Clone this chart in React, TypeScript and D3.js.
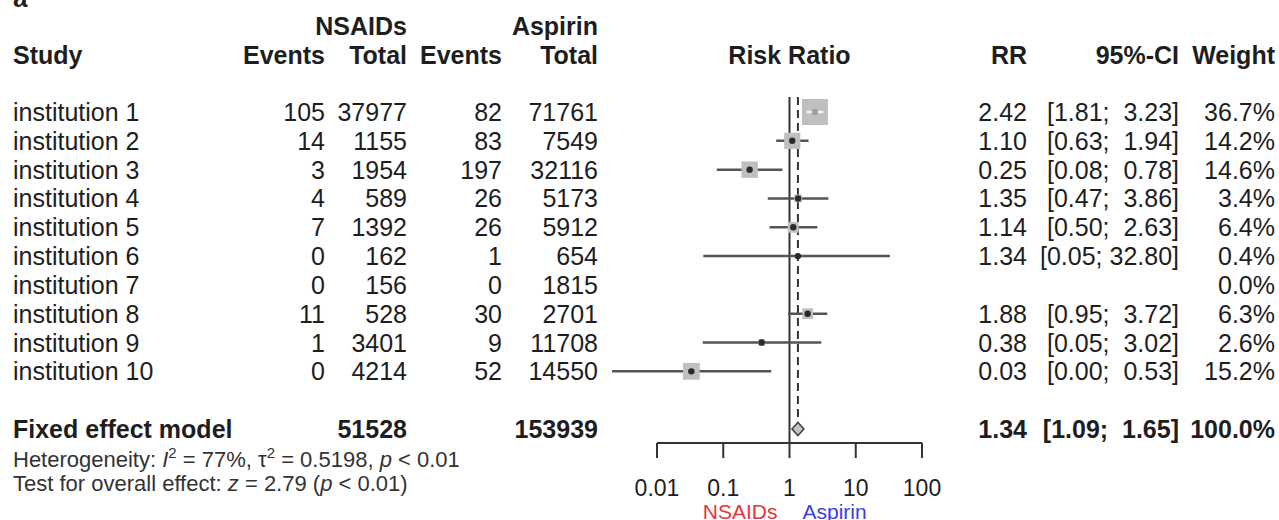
import React from "react";
import * as d3 from "d3";

const studies = ["institution 1","institution 2","institution 3","institution 4","institution 5","institution 6","institution 7","institution 8","institution 9","institution 10"];
const eventsNSAIDs = [105, 14, 3, 4, 7, 0, 0, 11, 1, 0];
const totalNSAIDs = [37977, 1155, 1954, 589, 1392, 162, 156, 528, 3401, 4214];
const eventsAspirin = [82, 83, 197, 26, 26, 1, 0, 30, 9, 52];
const totalAspirin = [71761, 7549, 32116, 5173, 5912, 654, 1815, 2701, 11708, 14550];
const rr: (number | null)[] = [2.42, 1.10, 0.25, 1.35, 1.14, 1.34, null, 1.88, 0.38, 0.033];
const ciLower: (number | null)[] = [1.81, 0.63, 0.08, 0.47, 0.50, 0.05, null, 0.95, 0.049, 0.0021];
const ciUpper: (number | null)[] = [3.23, 1.94, 0.78, 3.86, 2.63, 32.80, null, 3.72, 3.02, 0.53];
const weights = [36.7, 14.2, 14.6, 3.4, 6.4, 0.4, 0.0, 6.3, 2.6, 15.2];

const pooledLabel = "Fixed effect model";
const pooledRR = 1.34;
const pooledLower = 1.09;
const pooledUpper = 1.65;
const pooledTotalNSAIDs = 51528;
const pooledTotalAspirin = 153939;
const pooledWeight = 100.0;

const tickValues = [0.01, 0.1, 1, 10, 100];
const tickLabels = ["0.01", "0.1", "1", "10", "100"];
const labelLeft = "NSAIDs";
const labelRight = "Aspirin";

const FONT = "'Liberation Sans', Arial, Helvetica, sans-serif";

const fmtCI = (lo: number, hi: number) => {
  const l = lo.toFixed(2).padStart(4, " ");
  const h = hi.toFixed(2).padStart(5, " ");
  return `[${l}; ${h}]`;
};

export default function App() {
  const W = 1279, H = 520;
  const x = d3.scaleLog().domain([0.01, 100]).range([657, 922]);
  const y = d3.scaleLinear().domain([0, 11]).range([112, 429]);
  const size = d3.scaleSqrt().domain([0, 36.7]).range([0, 26]);
  const base = 9; // baseline offset from row centre
  const axisY = 443;
  const topY = 97;

  const col = {
    evN: 325, totN: 407, evA: 502, totA: 598, rr: 1027, ci: 1179, w: 1275,
  };
  const txt = "#1e1e1e";
  const lineCol = "#555";

  const rows = studies.map((s, i) => {
    const cy = y(i);
    const r = rr[i], lo = ciLower[i], hi = ciUpper[i];
    let marks: React.ReactNode = null;
    if (r != null && lo != null && hi != null) {
      const side = size(weights[i]);
      const x0 = x(lo), x1 = x(hi), xc = x(r);
      const inside = x0 >= xc - side / 2 && x1 <= xc + side / 2;
      marks = (
        <g>
          {!inside && <line x1={x0} x2={x1} y1={cy} y2={cy} stroke={lineCol} strokeWidth={2.5} />}
          <rect x={xc - side / 2} y={cy - side / 2} width={side} height={side} fill="#bfbfbf" />
          {inside && <line x1={x0} x2={x1} y1={cy} y2={cy} stroke="#f4f4f4" strokeWidth={2.5} />}
          <circle cx={xc} cy={cy} r={3.2} fill={inside ? "#a0a0a0" : "#2a2a2a"} />
        </g>
      );
    }
    return (
      <g key={s}>
        {marks}
        <g fontSize={25} fill={txt}>
          <text x={13} y={cy + base}>{s}</text>
          <text x={col.evN} y={cy + base} textAnchor="end">{eventsNSAIDs[i]}</text>
          <text x={col.totN} y={cy + base} textAnchor="end">{totalNSAIDs[i]}</text>
          <text x={col.evA} y={cy + base} textAnchor="end">{eventsAspirin[i]}</text>
          <text x={col.totA} y={cy + base} textAnchor="end">{totalAspirin[i]}</text>
          {r != null && <text x={col.rr} y={cy + base} textAnchor="end">{r.toFixed(2)}</text>}
          {lo != null && hi != null && (
            <text x={col.ci} y={cy + base} textAnchor="end" style={{ whiteSpace: "pre" }}>{fmtCI(lo, hi)}</text>
          )}
          <text x={col.w} y={cy + base} textAnchor="end">{weights[i].toFixed(1)}%</text>
        </g>
      </g>
    );
  });

  const py = y(10 + 1);
  const dh = 6.5;
  const diamond = `M${x(pooledLower)},${py} L${x(pooledRR)},${py - dh} L${x(pooledUpper)},${py} L${x(pooledRR)},${py + dh} Z`;

  return (
    <svg width={W} height={H} style={{ position: "absolute", left: 0, top: 0, background: "#fff" }} fontFamily={FONT}>
      <rect width={W} height={H} fill="#fff" />
      <text x={13} y={7} fontSize={26} fontWeight="bold" fill={txt}>a</text>
      {/* header */}
      <g fontSize={25} fontWeight="bold" fill={txt}>
        <text x={col.totN} y={35} textAnchor="end">NSAIDs</text>
        <text x={col.totA} y={35} textAnchor="end">Aspirin</text>
        <text x={13} y={64}>Study</text>
        <text x={col.evN} y={64} textAnchor="end">Events</text>
        <text x={col.totN} y={64} textAnchor="end">Total</text>
        <text x={col.evA} y={64} textAnchor="end">Events</text>
        <text x={col.totA} y={64} textAnchor="end">Total</text>
        <text x={x(1)} y={64} textAnchor="middle">Risk Ratio</text>
        <text x={col.rr} y={64} textAnchor="end">RR</text>
        <text x={col.ci} y={64} textAnchor="end">95%-CI</text>
        <text x={col.w} y={64} textAnchor="end">Weight</text>
      </g>
      {/* reference lines */}
      <line x1={x(1)} x2={x(1)} y1={topY} y2={axisY} stroke="#333" strokeWidth={2} />
      <line x1={x(pooledRR)} x2={x(pooledRR)} y1={topY} y2={py - dh - 1} stroke="#333" strokeWidth={2} strokeDasharray="8,5" />
      {rows}
      {/* pooled */}
      <path d={diamond} fill="#c4c4c4" stroke="#444" strokeWidth={1.6} />
      <g fontSize={25} fontWeight="bold" fill={txt}>
        <text x={13} y={py + base}>{pooledLabel}</text>
        <text x={col.totN} y={py + base} textAnchor="end">{pooledTotalNSAIDs}</text>
        <text x={col.totA} y={py + base} textAnchor="end">{pooledTotalAspirin}</text>
        <text x={col.rr} y={py + base} textAnchor="end">{pooledRR.toFixed(2)}</text>
        <text x={col.ci} y={py + base} textAnchor="end" style={{ whiteSpace: "pre" }}>{fmtCI(pooledLower, pooledUpper)}</text>
        <text x={col.w} y={py + base} textAnchor="end">{pooledWeight.toFixed(1)}%</text>
      </g>
      {/* heterogeneity */}
      <g fontSize={22} fill="#333">
        <text x={13} y={467} style={{ whiteSpace: "pre" }}>
          <tspan>Heterogeneity: </tspan>
          <tspan fontStyle="italic">I</tspan>
          <tspan dy={-9} fontSize={15}>2</tspan>
          <tspan dy={9}> = 77%, τ</tspan>
          <tspan dy={-9} fontSize={15}>2</tspan>
          <tspan dy={9}> = 0.5198, </tspan>
          <tspan fontStyle="italic">p</tspan>
          <tspan> &lt; 0.01</tspan>
        </text>
        <text x={13} y={491} style={{ whiteSpace: "pre" }}>
          <tspan>Test for overall effect: </tspan>
          <tspan fontStyle="italic">z</tspan>
          <tspan> = 2.79 (</tspan>
          <tspan fontStyle="italic">p</tspan>
          <tspan> &lt; 0.01)</tspan>
        </text>
      </g>
      {/* axis */}
      <line x1={x(0.01)} x2={x(100)} y1={axisY} y2={axisY} stroke="#333" strokeWidth={2} />
      {tickValues.map((t, i) => (
        <g key={t}>
          <line x1={x(t)} x2={x(t)} y1={axisY} y2={axisY + 15} stroke="#333" strokeWidth={2} />
          <text x={x(t)} y={496} textAnchor="middle" fontSize={23} fill={txt}>{tickLabels[i]}</text>
        </g>
      ))}
      <text x={x(1) - 12} y={519} textAnchor="end" fontSize={21} fill="#e8343c">{labelLeft}</text>
      <text x={x(1) + 13} y={519} textAnchor="start" fontSize={21} fill="#3b3bf0">{labelRight}</text>
    </svg>
  );
}
